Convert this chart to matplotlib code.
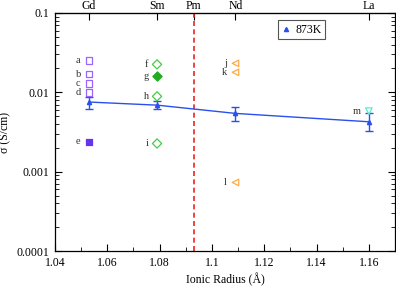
import matplotlib
matplotlib.use("Agg")
import matplotlib.pyplot as plt
from matplotlib.lines import Line2D
from matplotlib.ticker import LogLocator, NullFormatter, FixedLocator

plt.rcParams['font.family'] = ['Liberation Serif', 'DejaVu Serif']
plt.rcParams['font.size'] = 8.5

# linha 873K
raio_linha = [1.053, 1.079, 1.109, 1.160]
sigma_linha = [0.00755, 0.0069, 0.00543, 0.00426]
erro_inf = [0.00135, 0.0008, 0.00104, 0.00098]
erro_sup = [0.00125, 0.0009, 0.00104, 0.00127]

# pontos da literatura
gd_abertos = [0.0251, 0.0170, 0.0130, 0.0100]
gd_abertos_rot = ['a', 'b', 'c', 'd']
gd_cheio = [0.00238]
gd_cheio_rot = ['e']
sm_abertos = [0.0225, 0.0089, 0.00227]
sm_abertos_rot = ['f', 'h', 'i']
sm_cheio = [0.0159]
sm_cheio_rot = ['g']
nd_abertos = [0.0232, 0.0179, 0.000733]
nd_abertos_rot = ['j', 'k', 'l']
la_abertos = [0.0058]
la_abertos_rot = ['m']

elementos = ['Gd', 'Sm', 'Pm', 'Nd', 'La']
raios = [1.053, 1.079, 1.093, 1.109, 1.160]
raio_pm = 1.093

azul = '#2a4ff0'

fig = plt.figure(figsize=(3.96, 2.88), dpi=100)
ax = fig.add_axes([0.139, 0.128, 0.8585, 0.827])

ax.axvline(raio_pm, color='#ee2222', linestyle='--', linewidth=1.2, dashes=(3, 2))

ax.errorbar(raio_linha, sigma_linha, yerr=[erro_inf, erro_sup], color=azul,
            marker='^', markersize=3, linewidth=1, capsize=3, elinewidth=1,
            capthick=1, zorder=3)

def grupo(x, valores, rotulos, marker, cor, cheio):
    xs = [x] * len(valores)
    ax.scatter(xs, valores, marker=marker, s=22,
               facecolors=cor if cheio else 'none', edgecolors=cor,
               linewidths=0.9, zorder=4)
    for v, r in zip(valores, rotulos):
        ax.annotate(r, (x, v), xytext=(-6, 0), textcoords='offset points',
                    ha='right', va='center', fontsize=7.5, color='#333333')

grupo(1.053, gd_abertos, gd_abertos_rot, 's', '#9966ff', False)
grupo(1.053, gd_cheio, gd_cheio_rot, 's', '#6633ee', True)
grupo(1.079, sm_abertos, sm_abertos_rot, 'D', '#44cc44', False)
grupo(1.079, sm_cheio, sm_cheio_rot, 'D', '#22aa22', True)
grupo(1.109, nd_abertos, nd_abertos_rot, '<', '#ffaa44', False)
grupo(1.160, la_abertos, la_abertos_rot, 'v', '#55eecc', False)

ax.set_yscale('log')
ax.set_xlim(1.04, 1.17)
ax.set_ylim(0.0001, 0.1)
ax.set_xticks([1.04, 1.06, 1.08, 1.10, 1.12, 1.14, 1.16])
ax.set_xticklabels(['1.04', '1.06', '1.08', '1.1', '1.12', '1.14', '1.16'])
ax.xaxis.set_minor_locator(FixedLocator([1.05, 1.07, 1.09, 1.11, 1.13, 1.15]))
ax.set_yticks([0.0001, 0.001, 0.01, 0.1])
ax.set_yticklabels(['0.0001', '0.001', '0.01', '0.1'])
ax.yaxis.set_minor_locator(LogLocator(base=10, subs=range(2, 10)))
ax.yaxis.set_minor_formatter(NullFormatter())
ax.tick_params(which='both', direction='in', right=True, top=False)
ax.tick_params(which='major', length=5, width=0.8, pad=4)
ax.tick_params(which='minor', length=3, width=0.6)

topo = ax.secondary_xaxis('top')
topo.set_xticks(raios)
topo.set_xticklabels(elementos)
topo.tick_params(direction='in', length=5, width=0.8, pad=0.5)
topo.xaxis.set_minor_locator(FixedLocator([]))

ax.set_xlabel('Ionic Radius (Å)', labelpad=3)
ax.set_ylabel('σ (S/cm)')

proxy = Line2D([], [], color=azul, marker='^', markersize=3, linestyle='none')
leg = ax.legend([proxy], ['873K'], loc='upper left', bbox_to_anchor=(0.655, 0.97),
                fancybox=False, framealpha=1, edgecolor='#555555', handlelength=0.8,
                handletextpad=0.4, borderpad=0.3, borderaxespad=0, numpoints=1)
leg.get_frame().set_linewidth(0.8)

for s in ax.spines.values():
    s.set_linewidth(0.9)

fig.savefig('out.png', dpi=100)
